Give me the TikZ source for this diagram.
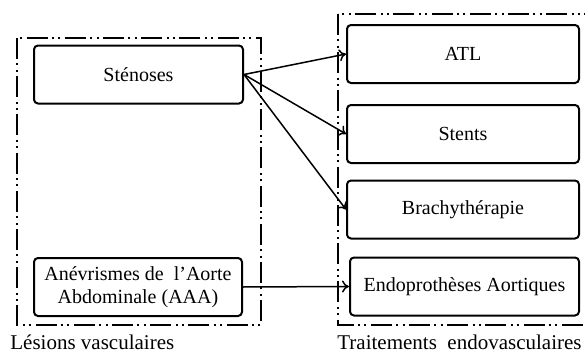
\documentclass[tikz,border=0pt]{standalone}
\usepackage{fontspec}
\setmainfont{Liberation Serif}
\usetikzlibrary{arrows.meta}

\begin{document}
\begin{tikzpicture}[x=.5pt,y=-.5pt,>={To[length=3.5pt,width=6pt]},
  box/.style={draw, rounded corners=2pt, line width=1pt, align=center,
    inner sep=0pt, minimum height=29pt, font=\fontsize{10}{11.5}\selectfont},
  frame/.style={line width=.9pt,
    dash pattern=on 10.5pt off 2.2pt on 1pt off 2.2pt on 1pt off 2.2pt},
  caption/.style={anchor=west, inner sep=0pt, font=\fontsize{10.5}{12}\selectfont},
  arr/.style={->, line width=.75pt}]
\useasboundingbox (0,0) rectangle (585,354);
% dash-dot frames
\draw [frame] (17,38) rectangle (261,325);
\draw [frame] (338,14) rectangle (600,325);
% lesions
\node [box, minimum width=104.5pt] (sten) at (138.5,74.5) {Sténoses};
\node [box, minimum width=104pt] (aaa) at (138,287) {Anévrismes de\ \ l’Aorte\\Abdominale (AAA)};
% treatments
\node [box, minimum width=116pt] (atl) at (463,54) {ATL};
\node [box, minimum width=116pt] (stents) at (463,134) {Stents};
\node [box, minimum width=116pt] (brachy) at (463,209.5) {Brachythérapie};
\node [box, minimum width=114.5pt] (endo) at (464.5,286.5) {Endoprothèses Aortiques};
% captions
\node [caption] (lesions) at (10,342) {Lésions vasculaires};
\node [caption] (traitements) at (337,342) {Traitements\ \ endovasculaires};
% arrows
\draw [arr] (sten.east) -- (atl.west);
\draw [arr] (sten.east) -- (stents.west);
\draw [arr] (sten.east) -- (brachy.west);
\draw [arr] (aaa.east) -- (endo.west);
\end{tikzpicture}
\end{document}
